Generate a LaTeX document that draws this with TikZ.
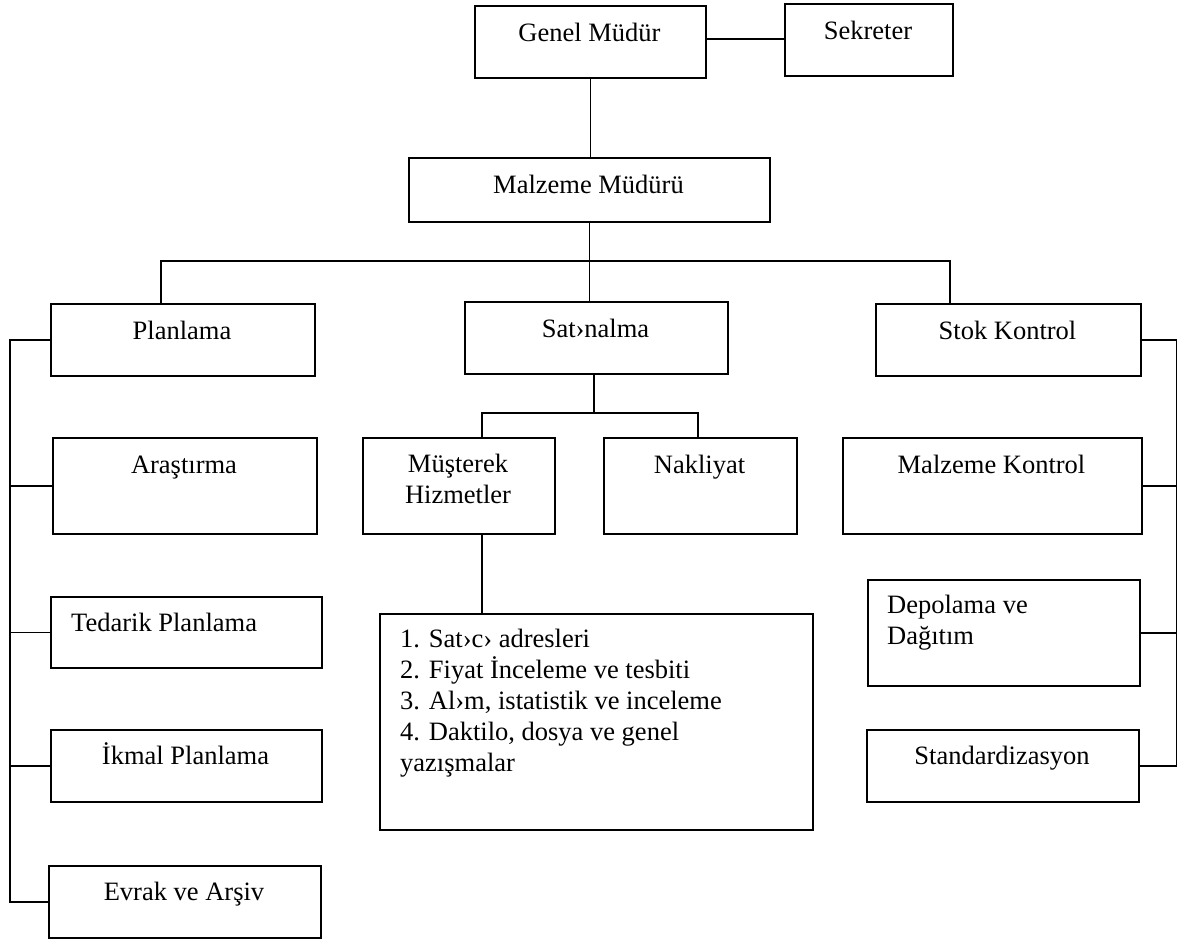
\documentclass[tikz,border=0pt]{standalone}
\usepackage{fontspec}
\setmainfont{Liberation Serif}
\usetikzlibrary{calc}
\tikzset{
  orgbox/.style={draw, line width=2pt, inner sep=0pt, anchor=north west},
  lbl/.style={inner sep=0pt, font=\fontsize{26.5}{31}\selectfont},
  link/.style={line width=1.5pt},
}
\begin{document}
\begin{tikzpicture}[x=1pt,y=-1pt]
\useasboundingbox (0,0) rectangle (1178,940);
% boxes
\node[orgbox, minimum width=231pt, minimum height=72pt] (gm) at (474,5) {};
\node[orgbox, minimum width=168pt, minimum height=72pt] (sek) at (784,3) {};
\node[orgbox, minimum width=361pt, minimum height=64pt] (mm) at (408,157) {};
\node[orgbox, minimum width=264pt, minimum height=72pt] (pl) at (50,303) {};
\node[orgbox, minimum width=263pt, minimum height=72pt] (sat) at (464,301) {};
\node[orgbox, minimum width=265pt, minimum height=72pt] (stok) at (875,303) {};
\node[orgbox, minimum width=264pt, minimum height=96pt] (ara) at (52,437) {};
\node[orgbox, minimum width=271pt, minimum height=71pt] (ted) at (50,596) {};
\node[orgbox, minimum width=271pt, minimum height=72pt] (ikm) at (50,729) {};
\node[orgbox, minimum width=272pt, minimum height=72pt] (evr) at (48,865) {};
\node[orgbox, minimum width=192pt, minimum height=96pt] (mus) at (362,437) {};
\node[orgbox, minimum width=193pt, minimum height=96pt] (nak) at (603,437) {};
\node[orgbox, minimum width=299pt, minimum height=96pt] (mk) at (842,437) {};
\node[orgbox, minimum width=272pt, minimum height=106pt] (dep) at (867,579) {};
\node[orgbox, minimum width=272pt, minimum height=72pt] (std) at (866,729) {};
\node[orgbox, minimum width=433pt, minimum height=216pt] (list) at (379,613) {};
% texts
\node[lbl, anchor=base] (gmt) at (589.5,41) {Genel Müdür};
\node[lbl, anchor=base] (sekt) at (868,39) {Sekreter};
\node[lbl, anchor=base] (mmt) at (588.5,193) {Malzeme Müdürü};
\node[lbl, anchor=base] (plt) at (182,339) {Planlama};
\node[lbl, anchor=base] (satt) at (595.5,337) {Sat›nalma};
\node[lbl, anchor=base] (stokt) at (1007.5,339) {Stok Kontrol};
\node[lbl, anchor=base] (arat) at (184,473) {Araştırma};
\node[lbl, anchor=base west] (tedt) at (71,631) {Tedarik Planlama};
\node[lbl, anchor=base] (ikmt) at (185.5,764) {İkmal Planlama};
\node[lbl, anchor=base] (evrt) at (184,900) {Evrak ve Arşiv};
\node[lbl, anchor=north, align=center] (must) at (458,454) {Müşterek\\Hizmetler};
\node[lbl, anchor=base] (nakt) at (699.5,473) {Nakliyat};
\node[lbl, anchor=base] (mkt) at (991.5,473) {Malzeme Kontrol};
\node[lbl, anchor=north west, align=left] (dept) at (887,595) {Depolama ve\\Dağıtım};
\node[lbl, anchor=base] (stdt) at (1002,764) {Standardizasyon};
\node[lbl, anchor=north west, align=left] (listt) at (400,629) {1. Sat›c› adresleri\\2. Fiyat İnceleme ve tesbiti\\3. Al›m, istatistik ve inceleme\\4. Daktilo, dosya ve genel\\yazışmalar};
% connectors
\draw[link] ($(gm.east)+(0,-3)$) coordinate (gs) -- (gs -| sek.west);
\draw[link] (gm.south) -- (gm.south |- mm.north);
\draw[link] (mm.south) -- (mm.south |- sat.north);
\coordinate (barL) at (161,261);
\coordinate (barR) at (950,261);
\draw[link] (barL |- pl.north) -- (barL) -- (barR) -- (barR |- stok.north);
\coordinate (sb) at (594,413);
\coordinate (sbL) at (482,413);
\coordinate (sbR) at (698,413);
\draw[link] (sb |- sat.south) -- (sb);
\draw[link] (sbL |- mus.north) -- (sbL) -- (sbR) -- (sbR |- nak.north);
\draw[link] (sbL |- mus.south) -- (sbL |- list.north);
\coordinate (ls) at (10,0);
\draw[link] (pl.west) -- (pl.west -| ls) -- (evr.west -| ls) -- (evr.west);
\draw[link] (ara.west) -- (ara.west -| ls);
\draw[link] (ted.west) -- (ted.west -| ls);
\draw[link] (ikm.west) -- (ikm.west -| ls);
\coordinate (rs) at (1176.5,0);
\draw[link] (stok.east) -- (stok.east -| rs) -- (std.east -| rs) -- (std.east);
\draw[link] (mk.east) -- (mk.east -| rs);
\draw[link] (dep.east) -- (dep.east -| rs);
\end{tikzpicture}
\end{document}
